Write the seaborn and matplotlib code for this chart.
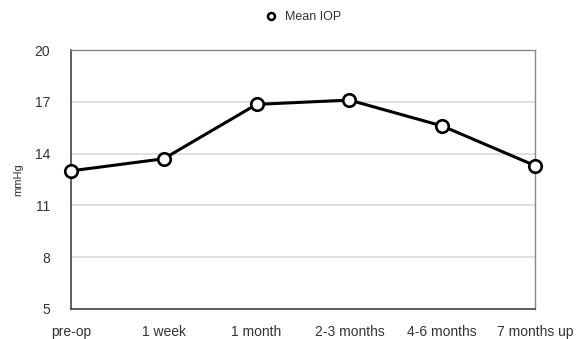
import pandas as pd
import matplotlib.pyplot as plt
import seaborn as sns

# --- DATA ---
periods = ["pre-op", "1 week", "1 month", "2-3 months", "4-6 months", "7 months up"]
mean_iop = [13.0, 13.7, 16.85, 17.1, 15.6, 13.3]
y_ticks = [5, 8, 11, 14, 17, 20]

df = pd.DataFrame({"period": periods, "iop": mean_iop})
df["pos"] = range(len(periods))

sns.set_style("white")
plt.rcParams["font.family"] = ["Liberation Sans", "DejaVu Sans"]

fig = plt.figure(figsize=(5.76, 3.39), dpi=100)
ax = fig.add_axes([0.123, 0.0885, 0.806, 0.764])

sns.lineplot(
    data=df, x="pos", y="iop", ax=ax,
    color="black", linewidth=2.2, marker="o", markersize=9,
    markerfacecolor="white", markeredgecolor="black", markeredgewidth=1.9,
    label="Mean IOP", zorder=5, clip_on=False,
)

ax.set_xlim(0, len(periods) - 1)
ax.set_ylim(5, 20)
ax.set_yticks(y_ticks)
ax.set_xticks(df["pos"])
ax.set_xticklabels(periods)
ax.yaxis.grid(True, color="#d9d9d9", linewidth=1.2)
ax.set_axisbelow(True)

for side in ["left", "bottom"]:
    ax.spines[side].set_color("#444444")
    ax.spines[side].set_linewidth(1.2)
for side in ["top", "right"]:
    ax.spines[side].set_color("#888888")
    ax.spines[side].set_linewidth(1.0)

ax.tick_params(axis="x", direction="inout", length=5, width=1, color="#444444",
               labelsize=10, labelcolor="#333333", pad=9)
ax.tick_params(axis="y", length=0, labelsize=10, labelcolor="#333333", pad=15)

ax.set_xlabel("")
ax.set_ylabel("mmHg", fontsize=8, color="#333333", labelpad=8)

leg = ax.legend(loc="center", bbox_to_anchor=(0.50, 1.127), frameon=False,
                fontsize=9, handlelength=1.0, handletextpad=0.6)
for t in leg.get_texts():
    t.set_color("#333333")
for h in leg.legend_handles:
    h.set_linestyle("none")
    h.set_markersize(5)
    h.set_markeredgewidth(1.8)

fig.savefig("out.png", dpi=100)
